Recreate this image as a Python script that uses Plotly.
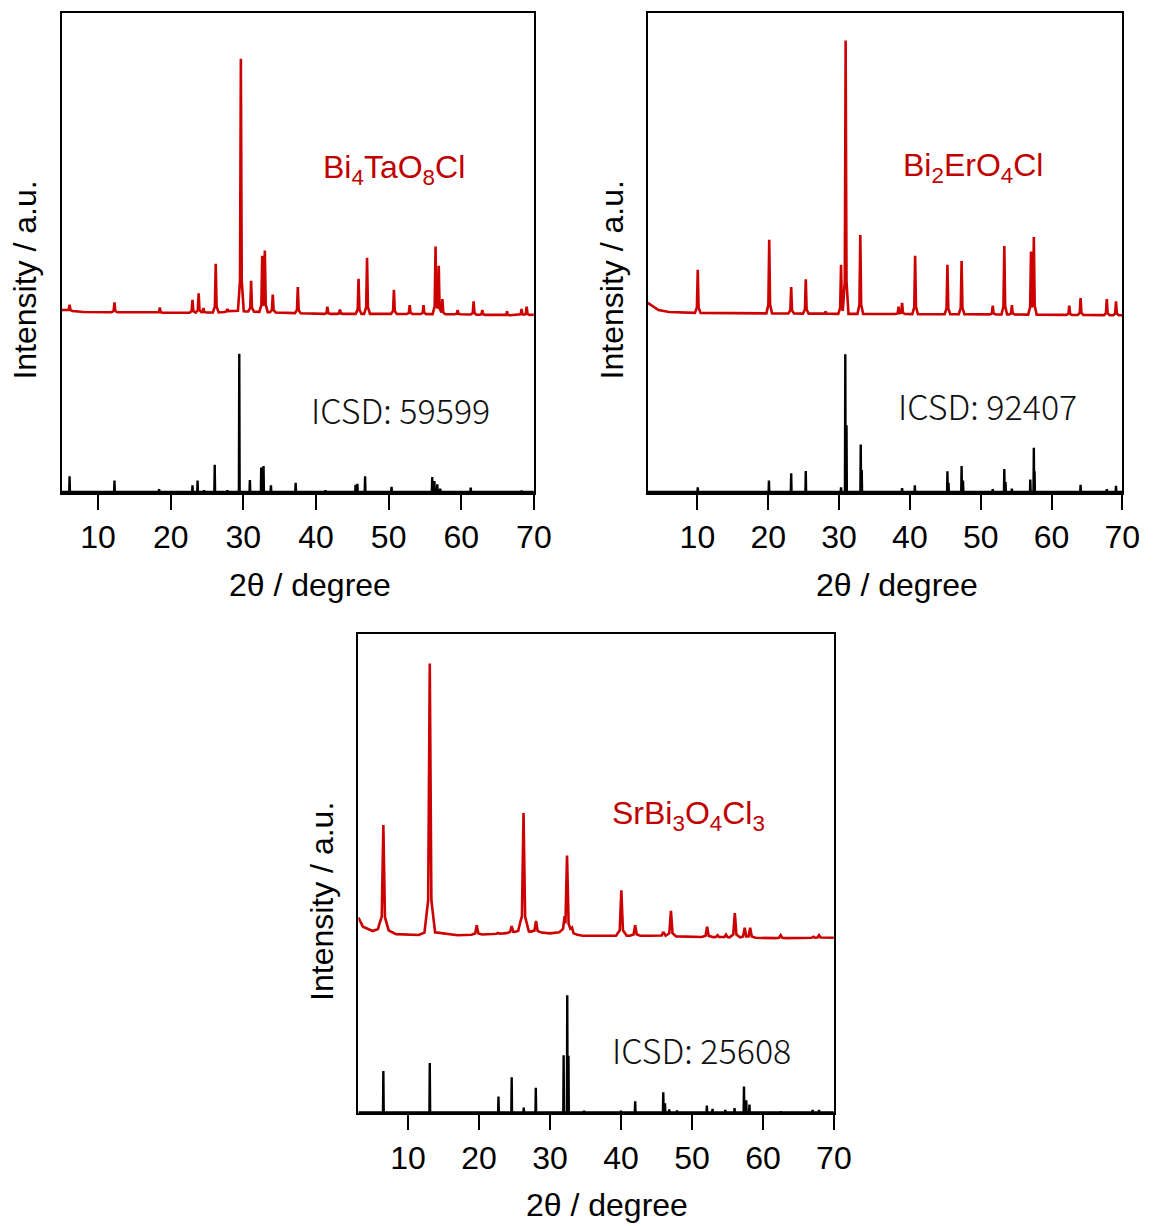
import numpy as np
import plotly.graph_objects as go

# ---------------- data ----------------
# Panel 1: Bi4TaO8Cl
p1_base_x = [5, 8, 20, 27, 28.8, 30.5, 40, 50, 60, 66, 70]
p1_base_y = [0.381, 0.377, 0.375, 0.376, 0.380, 0.378, 0.373, 0.373, 0.372, 0.370, 0.371]
p1_peak_x = [6.08, 12.26, 18.5, 23.0, 23.85, 24.5, 26.2, 27.8, 29.66, 31.07, 32.6, 32.96,
             34.05, 37.5, 41.57, 43.3, 45.86, 47.03, 50.73, 52.9, 54.8, 56.46, 56.9, 57.4,
             59.5, 61.7, 62.9, 66.3, 68.3, 69.0]
p1_peak_y = [0.392, 0.397, 0.386, 0.402, 0.416, 0.385, 0.477, 0.383, 0.904, 0.442, 0.494, 0.505,
             0.413, 0.429, 0.388, 0.382, 0.446, 0.490, 0.423, 0.391, 0.391, 0.513, 0.473, 0.404,
             0.381, 0.399, 0.381, 0.378, 0.383, 0.388]
p1_ref_x = [6.08, 12.26, 18.4, 23.0, 23.7, 24.6, 26.06, 27.8, 29.44, 30.9, 32.46, 32.78, 33.8,
            37.2, 41.3, 45.45, 45.7, 46.76, 50.4, 56.0, 56.3, 56.7, 57.1, 61.3, 68.3]
p1_ref_h = [0.033, 0.024, 0.006, 0.014, 0.024, 0.004, 0.057, 0.004, 0.288, 0.025, 0.051, 0.054, 0.014,
            0.019, 0.004, 0.015, 0.017, 0.033, 0.011, 0.031, 0.023, 0.016, 0.007, 0.009, 0.003]

# Panel 2: Bi2ErO4Cl
p2_base_x = [3, 3.6, 4.5, 6, 10, 30, 50, 70]
p2_base_y = [0.396, 0.390, 0.381, 0.377, 0.375, 0.373, 0.372, 0.370]
p2_peak_x = [10.05, 20.14, 23.24, 25.3, 28.1, 30.28, 30.93, 33.0, 38.4, 38.9, 40.74, 45.3,
             47.3, 51.7, 53.33, 54.4, 57.1, 57.5, 62.5, 64.1, 67.8, 69.1]
p2_peak_y = [0.465, 0.527, 0.429, 0.445, 0.378, 0.475, 0.942, 0.537, 0.388, 0.396, 0.494, 0.475,
             0.483, 0.390, 0.514, 0.391, 0.503, 0.533, 0.390, 0.406, 0.404, 0.399]
p2_ref_x = [10.05, 20.1, 23.24, 25.3, 30.28, 30.88, 31.05, 33.06, 33.2, 38.9, 40.7, 45.3, 45.45,
            47.3, 47.5, 51.7, 53.33, 53.5, 54.4, 57.0, 57.5, 57.6, 64.1, 67.8, 69.1]
p2_ref_h = [0.010, 0.024, 0.039, 0.044, 0.010, 0.287, 0.139, 0.099, 0.046, 0.008, 0.014, 0.043, 0.019,
            0.054, 0.024, 0.006, 0.048, 0.021, 0.007, 0.026, 0.092, 0.043, 0.015, 0.006, 0.013]

# Panel 3: SrBi3O4Cl3
p3_base_x = [3, 3.64, 5.03, 5.9, 7.3, 8.3, 11.5, 12.4, 13.9, 17, 22.7, 25, 25.8, 27, 30,
             31.6, 34.6, 44, 53, 62.5, 69.3, 70]
p3_base_y = [0.408, 0.389, 0.380, 0.385, 0.381, 0.3735, 0.3715, 0.377, 0.377, 0.371, 0.374,
             0.377, 0.382, 0.379, 0.375, 0.378, 0.370, 0.370, 0.367, 0.365, 0.366, 0.366]
p3_peak_x = [6.52, 13.06, 19.68, 22.66, 24.6, 26.27, 28.03, 32.06, 32.4, 33.1, 40.05, 42.0,
             45.96, 47.04, 52.14, 53.6, 54.8, 56.04, 57.43, 58.2, 62.5, 67.1, 67.9]
p3_peak_y = [0.601, 0.9375, 0.392, 0.376, 0.390, 0.626, 0.401, 0.411, 0.5375, 0.387, 0.465, 0.392,
             0.378, 0.422, 0.389, 0.371, 0.3725, 0.417, 0.387, 0.387, 0.371, 0.368, 0.371]
p3_ref_x = [6.52, 13.06, 22.74, 24.6, 26.3, 28.0, 31.92, 32.43, 32.6, 34.8, 40.0, 42.0, 45.96,
            46.2, 46.8, 47.9, 52.1, 52.9, 54.7, 56.0, 57.33, 57.65, 58.1, 62.5, 67.0, 67.9]
p3_ref_h = [0.086, 0.103, 0.033, 0.073, 0.010, 0.051, 0.119, 0.244, 0.118, 0.003, 0.003, 0.023, 0.042,
            0.019, 0.006, 0.004, 0.014, 0.007, 0.005, 0.009, 0.054, 0.025, 0.016, 0.002, 0.005, 0.005]

labels = ["Bi<sub>4</sub>TaO<sub>8</sub>Cl", "Bi<sub>2</sub>ErO<sub>4</sub>Cl",
          "SrBi<sub>3</sub>O<sub>4</sub>Cl<sub>3</sub>"]
icsd = ["ICSD: 59599", "ICSD: 92407", "ICSD: 25608"]
x_ranges = [[5, 70], [3, 70], [3, 70]]
x_ticks = [10, 20, 30, 40, 50, 60, 70]

RED = "#CC0000"


def render(base_x, base_y, pk_x, pk_top, hw, foot, x0, x1):
    """Piecewise-linear rendering of read peak list on a read baseline."""
    base_x = np.asarray(base_x, float)
    base_y = np.asarray(base_y, float)
    nodes = set(np.round(base_x, 4))
    shapes = []
    for p, t in zip(pk_x, pk_top):
        b = np.interp(p, base_x, base_y)
        H = t - b
        if foot:
            px = [p - hw, p - 0.3 * hw, p, p + 0.3 * hw, p + hw]
            py = [0, 0.12 * H, H, 0.12 * H, 0]
        else:
            px = [p - hw, p, p + hw]
            py = [0, H, 0]
        shapes.append((px, py))
        nodes.update(np.round(px, 4))
    xs = np.array(sorted(n for n in nodes if x0 <= n <= x1))
    ys = np.interp(xs, base_x, base_y)
    add = np.zeros_like(xs)
    for px, py in shapes:
        add = np.maximum(add, np.interp(xs, px, py, left=0, right=0))
    return xs, ys + add


fig = go.Figure()

panels = [
    (p1_base_x, p1_base_y, p1_peak_x, p1_peak_y, p1_ref_x, p1_ref_h, 0.4),
    (p2_base_x, p2_base_y, p2_peak_x, p2_peak_y, p2_ref_x, p2_ref_h, 0.4),
    (p3_base_x, p3_base_y, p3_peak_x, p3_peak_y, p3_ref_x, p3_ref_h, 0.75),
]

W, Hh = 1164, 1226
dom_x = [[62.7 / W, 542.3 / W], [658 / W, 1140 / W], [364 / W, 847 / W]]
dom_y = [[1 - 493 / Hh, 1 - 12.7 / Hh], [1 - 493 / Hh, 1 - 12.7 / Hh],
         [1 - 1113.3 / Hh, 1 - 633.5 / Hh]]

for i, (bx, by, pkx, pky, rx, rh, hw) in enumerate(panels):
    xa = "x" if i == 0 else f"x{i+1}"
    ya = "y" if i == 0 else f"y{i+1}"
    x0, x1 = x_ranges[i]
    cx, cy = render(bx, by, pkx, pky, hw, True, x0, x1)
    fig.add_trace(go.Scatter(x=cx, y=cy, mode="lines", line=dict(color=RED, width=2.6),
                             xaxis=xa, yaxis=ya, showlegend=False, hoverinfo="skip"))
    sx, sy = render([x0, x1], [0.002, 0.002], rx, [0.002 + h for h in rh], 0.05, False, x0, x1)
    fig.add_trace(go.Scatter(x=sx, y=sy, mode="lines", line=dict(color="black", width=2.4),
                             xaxis=xa, yaxis=ya, showlegend=False, hoverinfo="skip"))

axis_common = dict(showline=True, linecolor="black", linewidth=2, mirror=True,
                   showgrid=False, zeroline=False)
layout = dict(width=W, height=Hh, autosize=False, margin=dict(l=0, r=0, t=0, b=0),
              paper_bgcolor="white", plot_bgcolor="white",
              font=dict(family="Liberation Sans, Arial, sans-serif", color="black"))
for i in range(3):
    k = "" if i == 0 else str(i + 1)
    layout["xaxis" + k] = dict(axis_common, domain=dom_x[i], range=x_ranges[i],
                               anchor="y" + k, tickmode="array", tickvals=x_ticks,
                               ticks="outside", ticklen=15, tickwidth=2, tickcolor="black",
                               tickfont=dict(size=32, family="Liberation Sans, Arial"))
    layout["yaxis" + k] = dict(axis_common, domain=dom_y[i], range=[0, 1],
                               anchor="x" + k, showticklabels=False, ticks="")
fig.update_layout(**layout)

# sample labels and reference labels
lab_pos = [(50.7, 0.673), (48.9, 0.677), (49.5, 0.621)]
icsd_pos = [(51.7, 0.174), (50.9, 0.183), (51.4, 0.133)]
for i in range(3):
    xa = "x" if i == 0 else f"x{i+1}"
    ya = "y" if i == 0 else f"y{i+1}"
    fig.add_annotation(x=lab_pos[i][0], y=lab_pos[i][1], xref=xa, yref=ya, text=labels[i],
                       showarrow=False, xanchor="center", yanchor="middle",
                       font=dict(size=32, color="#C00000", family="Liberation Sans, Arial"))
    fig.add_annotation(x=icsd_pos[i][0], y=icsd_pos[i][1], xref=xa, yref=ya, text=icsd[i],
                       showarrow=False, xanchor="center", yanchor="middle",
                       font=dict(size=34, color="#111111", family="Noto Sans CJK JP", weight=300))

# axis titles as paper annotations
ytitle_pos = [(25 / W, 1 - 280 / Hh), (622 / W, 1 - 280 / Hh), (327 / W, 1 - 901 / Hh)]
xtitle_pos = [(315 / W, 1 - 585 / Hh), (911 / W, 1 - 585 / Hh), (617 / W, 1 - 1205 / Hh)]
for i in range(3):
    fig.add_annotation(x=ytitle_pos[i][0], y=ytitle_pos[i][1], xref="paper", yref="paper",
                       text="Intensity / a.u.", textangle=-90, showarrow=False,
                       xanchor="center", yanchor="middle",
                       font=dict(size=32, family="Liberation Sans, Arial", color="black"))
    fig.add_annotation(x=xtitle_pos[i][0], y=xtitle_pos[i][1], xref="paper", yref="paper",
                       text="2θ / degree", showarrow=False, xanchor="center", yanchor="middle",
                       font=dict(size=32, family="Liberation Sans, Arial", color="black"))

fig.write_html("out.html", config={"responsive": False})
